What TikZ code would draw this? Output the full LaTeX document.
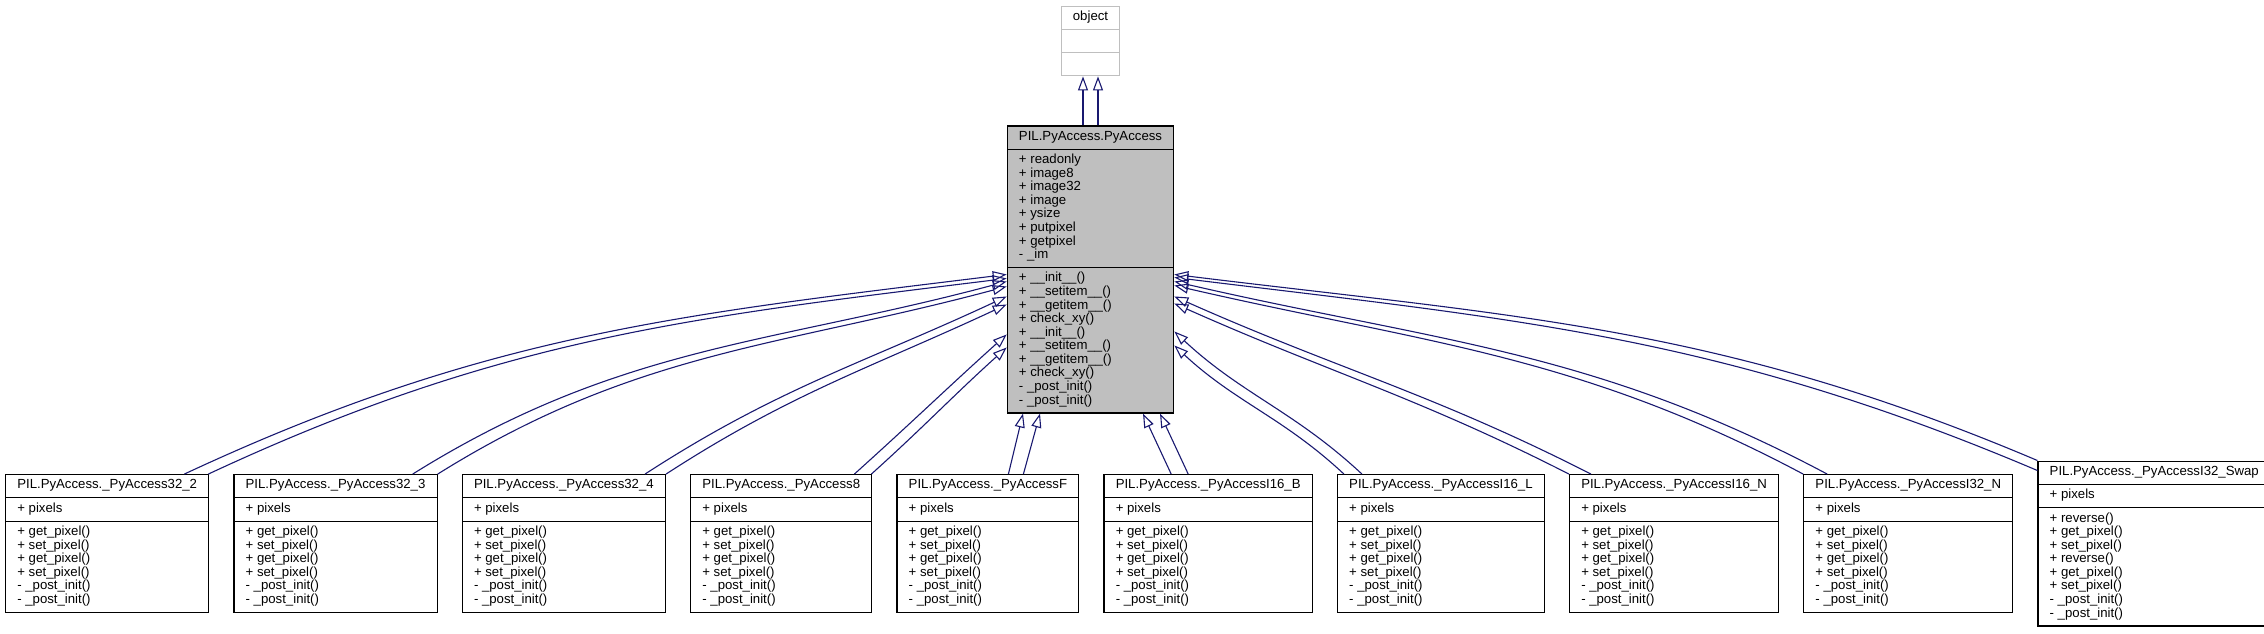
\documentclass[tikz,border=0pt]{standalone}
\usepackage{fontspec}
\setmainfont{Liberation Sans}
\usetikzlibrary{positioning,shapes.multipart,arrows.meta}
\definecolor{edgeblue}{HTML}{191970}
\definecolor{basegray}{HTML}{BFBFBF}
\newcommand{\mlines}[1]{\begin{tabular}{@{}l@{}}#1\end{tabular}}

\begin{document}
\begin{tikzpicture}[x=1pt, y=1pt, node distance=24pt,
    cls/.style={draw, line width=1.2pt, fill=white, rectangle split, rectangle split parts=3,
      rectangle split part align={center,left,left}, inner xsep=11.7pt, inner ysep=4.3pt,
      font=\fontsize{13.2}{13.33}\selectfont},
    inh/.style={edgeblue, line width=1.1pt, -{Triangle[open, length=14pt, width=10pt]}}]
    \useasboundingbox (0,0) rectangle (2264,633);

    % base classes
    \node[cls, draw=basegray] (obj) at (1090.5,592) {\strut object \nodepart{two}\strut \nodepart{three}\strut};
    \node[cls, fill=basegray] (pa) at (1090.5,363.5) {\strut PIL.PyAccess.PyAccess
        \nodepart{two}\mlines{+ readonly\\+ image8\\+ image32\\+ image\\+ ysize\\+ putpixel\\+ getpixel\\- \_im}
        \nodepart{three}\mlines{+ \_\_init\_\_()\\+ \_\_setitem\_\_()\\+ \_\_getitem\_\_()\\+ check\_xy()\\+ \_\_init\_\_()\\+ \_\_setitem\_\_()\\+ \_\_getitem\_\_()\\+ check\_xy()\\- \_post\_init()\\- \_post\_init()}};

    % subclasses
    \node[cls, anchor=west] (p322) at (5,89.5) {\strut PIL.PyAccess.\_PyAccess32\_2 \nodepart{two}\strut + pixels
        \nodepart{three}\mlines{+ get\_pixel()\\+ set\_pixel()\\+ get\_pixel()\\+ set\_pixel()\\- \_post\_init()\\- \_post\_init()}};
    \node[cls, right=of p322] (p323) {\strut PIL.PyAccess.\_PyAccess32\_3 \nodepart{two}\strut + pixels
        \nodepart{three}\mlines{+ get\_pixel()\\+ set\_pixel()\\+ get\_pixel()\\+ set\_pixel()\\- \_post\_init()\\- \_post\_init()}};
    \node[cls, right=of p323] (p324) {\strut PIL.PyAccess.\_PyAccess32\_4 \nodepart{two}\strut + pixels
        \nodepart{three}\mlines{+ get\_pixel()\\+ set\_pixel()\\+ get\_pixel()\\+ set\_pixel()\\- \_post\_init()\\- \_post\_init()}};
    \node[cls, right=of p324] (p8) {\strut PIL.PyAccess.\_PyAccess8 \nodepart{two}\strut + pixels
        \nodepart{three}\mlines{+ get\_pixel()\\+ set\_pixel()\\+ get\_pixel()\\+ set\_pixel()\\- \_post\_init()\\- \_post\_init()}};
    \node[cls, right=of p8] (pF) {\strut PIL.PyAccess.\_PyAccessF \nodepart{two}\strut + pixels
        \nodepart{three}\mlines{+ get\_pixel()\\+ set\_pixel()\\+ get\_pixel()\\+ set\_pixel()\\- \_post\_init()\\- \_post\_init()}};
    \node[cls, right=of pF] (pB) {\strut PIL.PyAccess.\_PyAccessI16\_B \nodepart{two}\strut + pixels
        \nodepart{three}\mlines{+ get\_pixel()\\+ set\_pixel()\\+ get\_pixel()\\+ set\_pixel()\\- \_post\_init()\\- \_post\_init()}};
    \node[cls, right=of pB] (pL) {\strut PIL.PyAccess.\_PyAccessI16\_L \nodepart{two}\strut + pixels
        \nodepart{three}\mlines{+ get\_pixel()\\+ set\_pixel()\\+ get\_pixel()\\+ set\_pixel()\\- \_post\_init()\\- \_post\_init()}};
    \node[cls, right=of pL] (pN) {\strut PIL.PyAccess.\_PyAccessI16\_N \nodepart{two}\strut + pixels
        \nodepart{three}\mlines{+ get\_pixel()\\+ set\_pixel()\\+ get\_pixel()\\+ set\_pixel()\\- \_post\_init()\\- \_post\_init()}};
    \node[cls, right=of pN] (p32N) {\strut PIL.PyAccess.\_PyAccessI32\_N \nodepart{two}\strut + pixels
        \nodepart{three}\mlines{+ get\_pixel()\\+ set\_pixel()\\+ get\_pixel()\\+ set\_pixel()\\- \_post\_init()\\- \_post\_init()}};
    \node[cls, right=of p32N] (pSw) {\strut PIL.PyAccess.\_PyAccessI32\_Swap \nodepart{two}\strut + pixels
        \nodepart{three}\mlines{+ reverse()\\+ get\_pixel()\\+ set\_pixel()\\+ reverse()\\+ get\_pixel()\\+ set\_pixel()\\- \_post\_init()\\- \_post\_init()}};

    % inheritance
    \draw[inh] ([xshift=-7.5pt]pa.north) -- ([xshift=-7.5pt]obj.south);
    \draw[inh] ([xshift=7.5pt]pa.north) -- ([xshift=7.5pt]obj.south);

    \draw[inh] ([xshift=-25pt]p322.north east) to[out=25, in=187] ([yshift=-149pt]pa.north west);
    \draw[inh] ([xshift=-1pt]p322.north east) to[out=25, in=187] ([yshift=-153pt]pa.north west);
    \draw[inh] ([xshift=-25pt]p323.north east) to[out=32, in=195] ([yshift=-156pt]pa.north west);
    \draw[inh] (p323.north east) to[out=32, in=195] ([yshift=-161pt]pa.north west);
    \draw[inh] ([xshift=-21pt]p324.north east) to[out=33, in=205] ([yshift=-171pt]pa.north west);
    \draw[inh] (p324.north east) to[out=33, in=205] ([yshift=-179pt]pa.north west);
    \draw[inh] ([xshift=-18pt]p8.north east) to[out=42, in=222] ([yshift=-209pt]pa.north west);
    \draw[inh] ([xshift=-1pt]p8.north east) to[out=42, in=222] ([yshift=-222pt]pa.north west);

    \draw[inh] ([xshift=20.5pt]pF.north) -- ([xshift=-67.5pt]pa.south);
    \draw[inh] ([xshift=35.5pt]pF.north) -- ([xshift=-50.5pt]pa.south);
    \draw[inh] ([xshift=-37pt]pB.north) -- ([xshift=52.5pt]pa.south);
    \draw[inh] ([xshift=-20pt]pB.north) -- ([xshift=69.5pt]pa.south);

    \draw[inh] ([xshift=25pt]pL.north west) to[out=137, in=-43] ([yshift=-206pt]pa.north east);
    \draw[inh] ([xshift=7pt]pL.north west) to[out=137, in=-43] ([yshift=-220pt]pa.north east);
    \draw[inh] ([xshift=22pt]pN.north west) to[out=153, in=-24] ([yshift=-171pt]pa.north east);
    \draw[inh] (pN.north west) to[out=153, in=-24] ([yshift=-178pt]pa.north east);
    \draw[inh] ([xshift=24pt]p32N.north west) to[out=152, in=-13] ([yshift=-156pt]pa.north east);
    \draw[inh] (p32N.north west) to[out=152, in=-13] ([yshift=-160pt]pa.north east);
    \draw[inh] (pSw.north west) to[out=157, in=-7] ([yshift=-149pt]pa.north east);
    \draw[inh] ([yshift=-10pt]pSw.north west) to[out=157, in=-7] ([yshift=-152pt]pa.north east);
\end{tikzpicture}
\end{document}
